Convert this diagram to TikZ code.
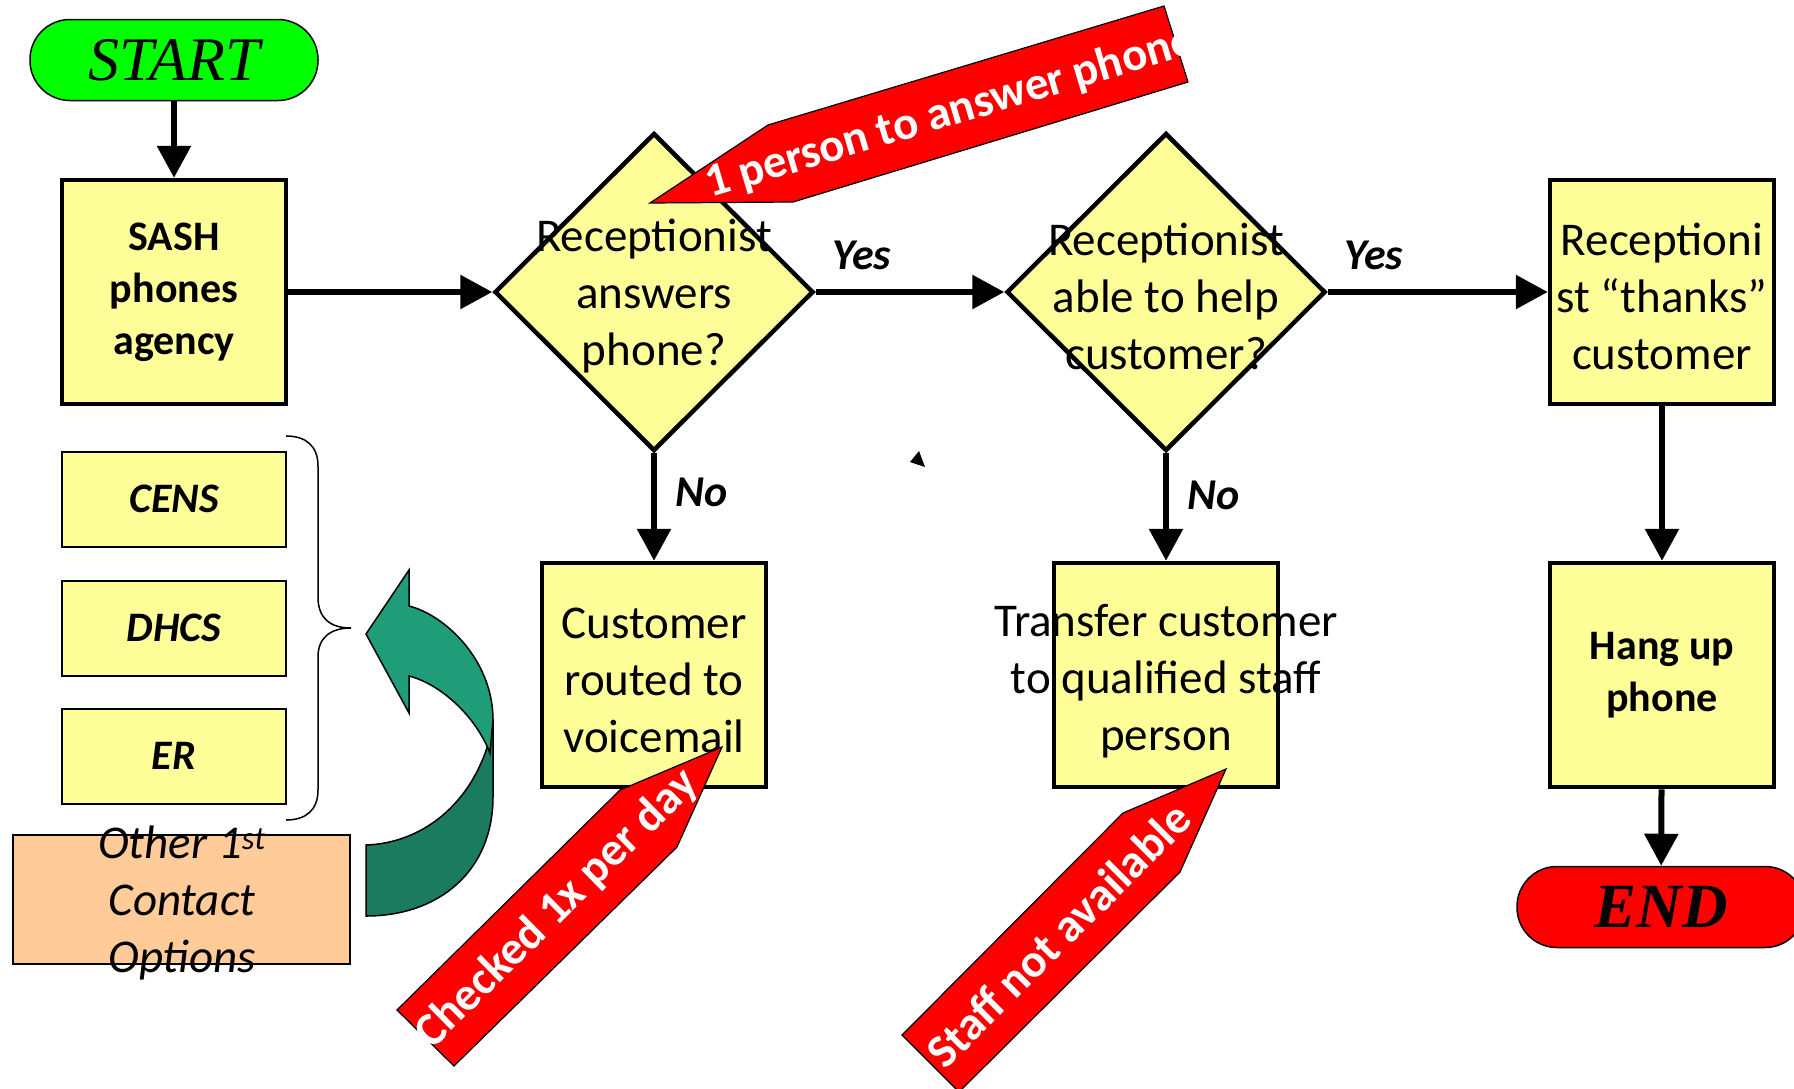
\documentclass[tikz,border=0pt]{standalone}
\usepackage{fontspec}
\setmainfont{Carlito}
\newfontfamily\timesfont{Liberation Serif}
\usetikzlibrary{shapes.geometric,arrows.meta}
\definecolor{boxyellow}{HTML}{FFFF99}
\definecolor{startgreen}{HTML}{00FF00}
\definecolor{optorange}{HTML}{FFCC99}
\definecolor{tealA}{HTML}{1F9C78}
\definecolor{tealB}{HTML}{1A7B5F}
\newcommand\fcReg{\fontsize{47}{57}\selectfont}
\newcommand\fcBold{\fontsize{42}{52}\selectfont\bfseries}
\newcommand\fcLab{\fontsize{44}{52}\selectfont\bfseries\itshape}
\newcommand\fcCall{\fontsize{47}{57}\selectfont\bfseries}
\tikzset{
  flowbox/.style={draw=black,line width=4.5pt,fill=boxyellow,minimum width=224pt,minimum height=224pt,inner sep=0pt,align=center},
  decision/.style={diamond,draw=black,line width=4.5pt,fill=boxyellow,minimum width=319pt,minimum height=318pt,inner sep=0pt},
  optbox/.style={draw=black,line width=2pt,fill=boxyellow,minimum width=224pt,minimum height=95pt,inner sep=0pt,font=\fcBold\itshape},
  pill/.style={draw=black,line width=1.5pt,rounded corners=40pt,minimum width=288pt,minimum height=81pt,inner sep=0pt},
  conn/.style={line width=6pt,-{Triangle[length=32pt,width=33pt]}},
  lab/.style={font=\fcLab,inner sep=0pt},
  plain/.style={font=\fcReg,align=center,inner sep=0pt},
  callout/.style={draw=black,line width=1.2pt,fill=red,line join=miter},
  calltext/.style={text=white,font=\fcCall,inner sep=0pt},
  teal/.style={draw=black,line width=1.5pt}
}
\begin{document}
\begin{tikzpicture}[x=1pt,y=-1pt]
\useasboundingbox (0,0) rectangle (1794,1088);

% terminals
\node[pill,fill=startgreen,font=\timesfont\itshape\fontsize{62}{70}\selectfont] (start) at (174,60) {START};
\node[pill,fill=red,font=\timesfont\bfseries\itshape\fontsize{63}{70}\selectfont] (end) at (1661,907) {END};

% process boxes
\node[flowbox,font=\fcBold] (sash) at (174,292) {SASH\\phones\\agency};
\node[decision] (d1) at (654,292) {};
\node[plain] (d1t) at (654,296) {Receptionist\\answers\\phone?};
\node[decision] (d2) at (1166,292) {};
\node[plain] (d2t) at (1166,296) {Receptionist\\able to help\\customer?};
\node[flowbox] (thanks) at (1662,292) {};
\node[plain] (thankst) at (1662,296) {Receptioni\\st “thanks”\\customer};
\node[flowbox] (voice) at (654,675) {};
\node[plain] (voicet) at (654,680) {Customer\\routed to\\voicemail};
\node[flowbox] (transfer) at (1166,675) {};
\node[plain] (transfert) at (1166,681) {Transfer customer\\to qualified staff\\person};
\node[flowbox,font=\fcBold] (hang) at (1662,675) {Hang up\\phone};

% option boxes
\node[optbox] (cens) at (174,499) {CENS};
\node[optbox] (dhcs) at (174,628) {DHCS};
\node[optbox] (er) at (174,756) {ER};
\node[draw=black,line width=2pt,fill=optorange,minimum width=337pt,minimum height=129pt,inner sep=0pt] (other) at (181.5,899.5) {};
\node[font=\fcReg\itshape,align=center,inner sep=0pt] (othert) at (182,903) {Other 1\textsuperscript{st}\\Contact\\Options};

% brace
\draw[line width=1.5pt] (286,436) .. controls (306,436) and (318,446) .. (318,466) -- (318,597)
  .. controls (318,618) and (330,628) .. (351,628) .. controls (330,628) and (318,638) .. (318,657)
  -- (318,790) .. controls (318,810) and (306,820) .. (286,820);

% curved green arrow
\draw[teal,fill=tealB] (366,845) .. controls (425,843) and (478,800) .. (493,725) -- (493,797)
  .. controls (493,870) and (440,916) .. (366,916) -- cycle;
\draw[teal,fill=tealA] (409,606) .. controls (445,615) and (493,660) .. (493,720) -- (490,753)
  .. controls (475,715) and (440,684) .. (409,676) -- (409,713) -- (366,634) -- (409,570) -- cycle;

% connectors
\draw[conn] (start) -- (sash);
\draw[conn] (sash) -- (d1);
\draw[conn] (d1) -- (d2);
\draw[conn] (d2) -- (thanks);
\draw[conn] (thanks) -- (hang);
\draw[conn] (hang) -- (end);
\draw[conn] (d1) -- (voice);
\draw[conn] (d2) -- (transfer);

% labels
\node[lab] (yes1) at (862,255) {Yes};
\node[lab] (yes2) at (1374,255) {Yes};
\node[lab] (no1) at (702,492) {No};
\node[lab] (no2) at (1214,495) {No};

% stray small triangle
\fill (919,451) -- (910,462) -- (925,467) -- cycle;

% red callouts
\draw[callout] (650,203) -- (768,125) -- (1164,6) -- (1188,82) -- (793,202) -- cycle;
\node[calltext,rotate=16.6] (c1) at (950,113) {1 person to answer phone};
\draw[callout] (722,747) -- (620,790) -- (397,1010) -- (454,1066) -- (677,847) -- cycle;
\node[calltext,rotate=44.6] (c2) at (557,909) {Checked 1x per day};
\draw[callout] (1226,769) -- (1123,813) -- (902,1035) -- (959,1092) -- (1180,872) -- cycle;
\node[calltext,rotate=45] (c3) at (1058,935) {Staff not available};
\end{tikzpicture}
\end{document}
